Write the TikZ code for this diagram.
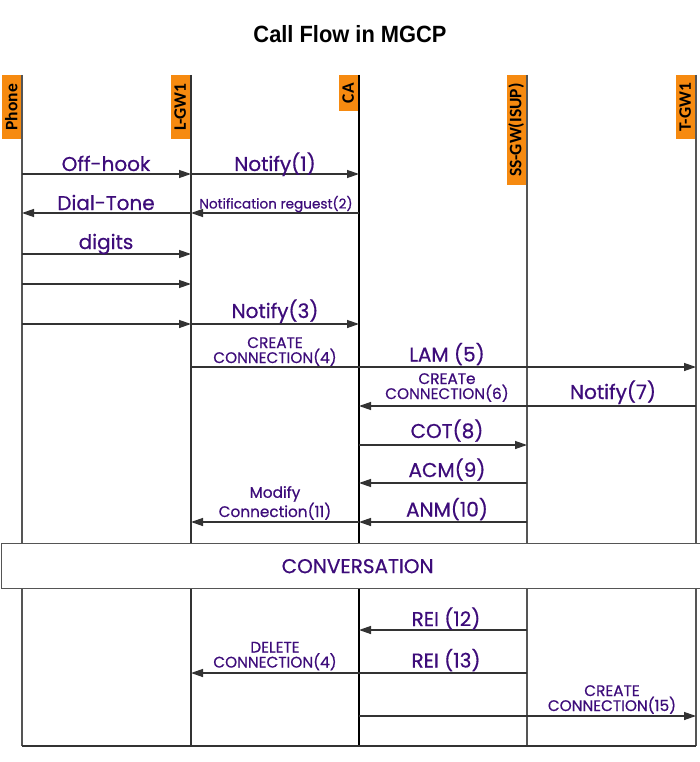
\documentclass[tikz,border=0pt]{standalone}
\usepackage{fontspec}
\setmainfont{Poppins}
\newfontfamily\labfont[FakeBold=0.6]{Poppins}
\newfontfamily\hdrfont{Carlito}
\newfontfamily\titlefont{Liberation Sans}
\usetikzlibrary{arrows.meta}
\definecolor{txt}{HTML}{3D0C7A}
\definecolor{hdr}{HTML}{F68A10}
\definecolor{lnc}{HTML}{555555}
\definecolor{arc}{HTML}{333333}
\begin{document}
\begin{tikzpicture}[x=1pt,y=-1pt,
  lifeline/.style={draw=lnc, line width=1.3pt},
  msg/.style={draw=arc, line width=1.3pt, -{Triangle[length=12pt,width=8pt]}},
  hdrbox/.style={fill=hdr, rotate=90, anchor=south east, minimum height=19pt,
    inner sep=0pt, font=\hdrfont\bfseries\fontsize{17.5}{17.5}\selectfont, text=black},
  lbl/.style={text=txt, anchor=base, inner sep=0pt, font=\labfont\fontsize{20}{20}\selectfont},
  slbl/.style={text=txt, anchor=base, inner sep=0pt, font=\labfont\fontsize{13.6}{13.6}\selectfont},
  dlbl/.style={text=txt, anchor=base, inner sep=0pt, align=center, font=\labfont\fontsize{15.3}{15}\selectfont},
]
\useasboundingbox (0,0) rectangle (700,762);
% title
\node (title) at (350,34) {\titlefont\bfseries\fontsize{23.5}{23.5}\selectfont\scalebox{0.93}[1]{Call Flow in MGCP}};
% lifeline tops and bottom level
\coordinate (ph) at (22,75);
\coordinate (gw) at (191,75);
\coordinate (ca) at (359,75);
\coordinate (ss) at (527,75);
\coordinate (tg) at (696,75);
\coordinate (bot) at (0,746);
% lifelines
\draw[lifeline] (ph) -- (ph|-bot);
\draw[lifeline, draw=arc] (gw) -- (gw|-bot);
\draw[lifeline, draw=black] (ca) -- (ca|-bot);
\draw[lifeline] (ss) -- (ss|-bot);
\draw[lifeline] (tg) -- (tg|-bot);
\draw[lifeline, draw=arc] (ph|-bot) -- (tg|-bot);
% headers
\node[hdrbox, minimum width=64pt] (hph) at (21,75) {Phone};
\node[hdrbox, minimum width=64pt] (hgw) at (190,75) {L-GW1};
\node[hdrbox, minimum width=36pt] (hca) at (358,75) {CA};
\node[hdrbox, minimum width=110pt] (hss) at (526,75) {SS-GW(ISUP)};
\node[hdrbox, minimum width=64pt] (htg) at (695,75) {T-GW1};
% message levels
\coordinate (r1) at (0,174);
\coordinate (r2) at (0,213);
\coordinate (r3) at (0,254);
\coordinate (r4) at (0,284);
\coordinate (r5) at (0,324);
\coordinate (r6) at (0,367);
\coordinate (r7) at (0,406);
\coordinate (r8) at (0,445);
\coordinate (r9) at (0,483);
\coordinate (r10) at (0,522);
\coordinate (r11) at (0,630);
\coordinate (r12) at (0,673);
\coordinate (r13) at (0,716);
% messages
\draw[msg] (ph|-r1) -- (gw|-r1);
\draw[msg] (gw|-r1) -- (ca|-r1);
\draw[msg] (gw|-r2) -- (ph|-r2);
\draw[msg] (ca|-r2) -- (gw|-r2);
\draw[msg] (ph|-r3) -- (gw|-r3);
\draw[msg] (ph|-r4) -- (gw|-r4);
\draw[msg] (ph|-r5) -- (gw|-r5);
\draw[msg] (gw|-r5) -- (ca|-r5);
\draw[msg] (gw|-r6) -- (tg|-r6);
\draw[msg] (tg|-r7) -- (ca|-r7);
\draw[msg] (ca|-r8) -- (ss|-r8);
\draw[msg] (ss|-r9) -- (ca|-r9);
\draw[msg] (ss|-r10) -- (ca|-r10);
\draw[msg] (ca|-r10) -- (gw|-r10);
\draw[msg] (ss|-r11) -- (ca|-r11);
\draw[msg] (ss|-r12) -- (gw|-r12);
\draw[msg] (ca|-r13) -- (tg|-r13);
% labels
\node[lbl] (t1) at (106,171) {Off-hook};
\node[lbl] (t2) at (275,171) {Notify(1)};
\node[lbl] (t3) at (106,210) {Dial-Tone};
\node[slbl] (t4) at (276,208.5) {Notification reguest(2)};
\node[lbl] (t5) at (106,249) {digits};
\node[lbl] (t6) at (275,318) {Notify(3)};
\node[dlbl] (t7) at (275,363) {CREATE\\CONNECTION(4)};
\node[lbl] (t8) at (447,361.5) {LAM (5)};
\node[dlbl] (t9) at (447,399) {CREATe\\CONNECTION(6)};
\node[lbl] (t10) at (613,399) {Notify(7)};
\node[lbl] (t11) at (447,438) {COT(8)};
\node[lbl] (t12) at (447,477) {ACM(9)};
\node[dlbl] (t13) at (275,517) {Modify\\Connection(11)};
\node[lbl] (t14) at (447,516.5) {ANM(10)};
\node[lbl] (t15) at (446,626) {REI (12)};
\node[dlbl] (t16) at (275,667.5) {DELETE\\CONNECTION(4)};
\node[lbl] (t17) at (446,667.5) {REI (13)};
\node[dlbl] (t18) at (612,711) {CREATE\\CONNECTION(15)};
% conversation
\node[draw=lnc, line width=1.3pt, fill=white, anchor=north west, minimum width=712pt,
  minimum height=45pt, text=txt, font=\labfont\fontsize{20}{20}\selectfont] (conv) at (1,543) {CONVERSATION};
\end{tikzpicture}
\end{document}
